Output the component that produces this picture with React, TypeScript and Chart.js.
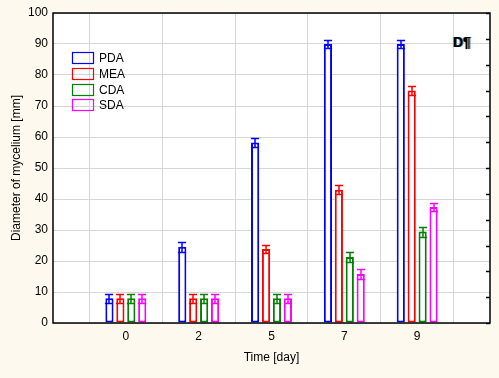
import React, { useEffect, useRef } from "react";
import { Chart, registerables } from "chart.js";

Chart.register(...registerables);

const categories = ["0", "2", "5", "7", "9"];
const seriesNames = ["PDA", "MEA", "CDA", "SDA"];
const pdaValues = [8, 24.6, 58.2, 90, 90];
const meaValues = [8, 8, 23.9, 43, 75];
const cdaValues = [8, 8, 8, 21.3, 29.5];
const sdaValues = [8, 8, 8, 15.8, 37.4];
const pdaErrors = [1.4, 1.6, 1.5, 1.3, 1.3];
const meaErrors = [1.4, 1.4, 1.3, 1.4, 1.4];
const cdaErrors = [1.4, 1.4, 1.4, 1.6, 1.6];
const sdaErrors = [1.4, 1.4, 1.4, 1.6, 1.3];
const yTicks = [0, 10, 20, 30, 40, 50, 60, 70, 80, 90, 100];
const seriesColors = ["#0000ff", "#ff0000", "#008000", "#ff00ff"];

const FONT = "Arial, 'Liberation Sans', sans-serif";

export default function App() {
  const ref = useRef<HTMLCanvasElement | null>(null);

  useEffect(() => {
    if (!ref.current) return;
    const labels = ["", ...categories, ""];
    const pad = (a: number[]) => [null, ...a, null];
    const values = [pdaValues, meaValues, cdaValues, sdaValues];
    const errors = [pdaErrors, meaErrors, cdaErrors, sdaErrors];

    const bgPlugin = {
      id: "bg",
      beforeDraw(chart: any) {
        const { ctx, chartArea } = chart;
        ctx.save();
        ctx.fillStyle = "#fdf9ee";
        ctx.fillRect(0, 0, chart.width, chart.height);
        ctx.fillStyle = "#ffffff";
        ctx.fillRect(chartArea.left, chartArea.top, chartArea.right - chartArea.left, chartArea.bottom - chartArea.top);
        ctx.restore();
      },
    };

    const errPlugin = {
      id: "err",
      afterDatasetsDraw(chart: any) {
        const { ctx } = chart;
        const yScale = chart.scales.y;
        ctx.save();
        chart.data.datasets.forEach((ds: any, di: number) => {
          const meta = chart.getDatasetMeta(di);
          meta.data.forEach((el: any, i: number) => {
            const v = ds.data[i];
            if (v == null) return;
            const e = ds.errors[i];
            const yT = Math.round(yScale.getPixelForValue(v + e)) + 0.5;
            const yB = Math.round(yScale.getPixelForValue(v - e)) + 0.5;
            const x = Math.round(el.x);
            const hw = el.width / 2;
            ctx.strokeStyle = ds.borderColor;
            ctx.lineWidth = 1.5;
            ctx.beginPath();
            ctx.moveTo(x, yT);
            ctx.lineTo(x, yB);
            ctx.moveTo(x - hw, yT);
            ctx.lineTo(x + hw, yT);
            ctx.moveTo(x - hw, yB);
            ctx.lineTo(x + hw, yB);
            ctx.stroke();
          });
        });
        ctx.restore();
      },
      afterDraw(chart: any) {
        const { ctx, chartArea } = chart;
        const { left, right, top, bottom } = chartArea;
        ctx.save();
        // frame
        ctx.strokeStyle = "#000";
        ctx.lineWidth = 1.5;
        ctx.strokeRect(left, top, right - left, bottom - top);
        // right axis inward ticks
        for (let i = 0; i <= 12; i++) {
          const y = Math.round(bottom - (i * (bottom - top)) / 12) + 0.5;
          ctx.beginPath();
          ctx.moveTo(right - 4, y);
          ctx.lineTo(right, y);
          ctx.stroke();
        }
        // legend
        ctx.font = `12px ${FONT}`;
        ctx.textBaseline = "middle";
        ctx.textAlign = "left";
        seriesNames.forEach((name, i) => {
          const top0 = 52 + i * 15.8;
          ctx.strokeStyle = seriesColors[i];
          ctx.lineWidth = 1.2;
          ctx.strokeRect(72.5, Math.round(top0) + 0.5, 21, 11);
          ctx.fillStyle = "#000";
          ctx.fillText(name, 99, Math.round(top0) + 6.5);
        });
        // panel label
        ctx.font = `bold 14px ${FONT}`;
        ctx.textBaseline = "alphabetic";
        ctx.fillStyle = "#d08000";
        ctx.fillText("D¶", 452, 47);
        ctx.fillStyle = "#3a80e0";
        ctx.fillText("D¶", 454, 47);
        ctx.fillStyle = "#000";
        ctx.fillText("D¶", 453, 47);
        ctx.restore();
      },
    };

    const chart = new Chart(ref.current, {
      type: "bar",
      data: {
        labels,
        datasets: seriesNames.map((name, i) => ({
          label: name,
          data: pad(values[i]),
          errors: pad(errors[i]),
          backgroundColor: "#ffffff",
          borderColor: seriesColors[i],
          borderWidth: 2,
          borderSkipped: false,
          categoryPercentage: 0.6,
          barPercentage: 0.75,
        })) as any,
      },
      options: {
        responsive: false,
        animation: false,
        layout: { padding: { left: 0, top: 13, right: 9, bottom: 0 } },
        plugins: { legend: { display: false }, tooltip: { enabled: false } },
        scales: {
          x: {
            type: "category",
            offset: false,
            grid: { color: "#d6d6d6", lineWidth: 1, drawTicks: false },
            border: { display: false },
            ticks: { color: "#000", font: { size: 12, family: FONT }, padding: 6, maxRotation: 0, autoSkip: false },
            title: { display: true, text: "Time [day]", color: "#000", font: { size: 12, family: FONT }, padding: { top: 0, bottom: 13 } },
            afterFit(scale: any) {
              scale.height = 55;
            },
          },
          y: {
            min: 0,
            max: 100,
            afterBuildTicks(scale: any) {
              scale.ticks = yTicks.map((v) => ({ value: v }));
            },
            grid: { color: "#d6d6d6", lineWidth: 1, drawTicks: false },
            border: { display: false },
            ticks: { color: "#000", font: { size: 12, family: FONT }, padding: 5 },
            title: { display: true, text: "Diameter of mycelium [mm]", color: "#000", font: { size: 12, family: FONT }, padding: { top: 9, bottom: 0 } },
            afterFit(scale: any) {
              scale.width = 53;
            },
          },
        },
      },
      plugins: [bgPlugin, errPlugin],
    } as any);
    return () => chart.destroy();
  }, []);

  return (
    <div style={{ position: "absolute", left: 0, top: 0, width: 499, height: 378 }}>
      <canvas ref={ref} width={499} height={378} style={{ display: "block" }} />
    </div>
  );
}
